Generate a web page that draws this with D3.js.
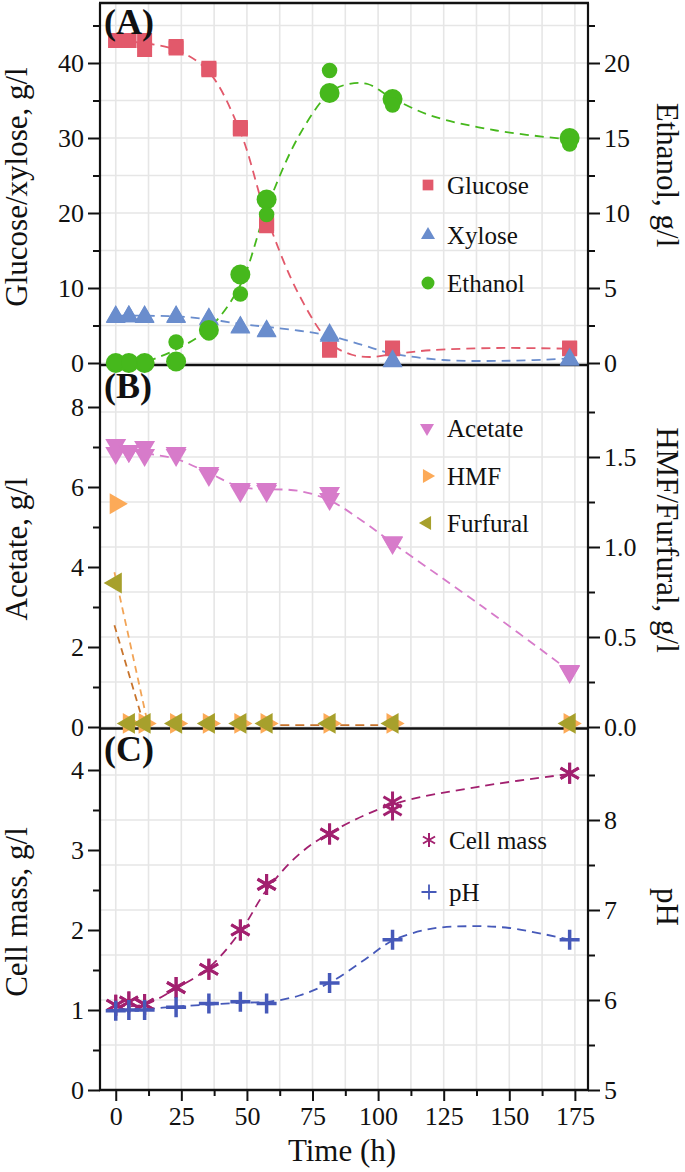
<!DOCTYPE html>
<html><head><meta charset="utf-8">
<script src="https://cdn.jsdelivr.net/npm/d3@7"></script>
<style>svg text, .serif{font-family:"Liberation Serif",Tinos,"Times New Roman" !important}</style>
</head><body style="margin:0;background:#fff"><svg id="c" width="685" height="1172" style="display:block"></svg>
<script>
// ---------- data ----------
const times = [0, 5, 11, 23, 35.5, 47.5, 57.5, 81.5, 105.5, 173];
const glucose1 = [43, 43, 43, 42.2, 39.3, 31.4, 18.6, 1.7, 2.0, 1.9];
const glucose2 = [43, 43, 41.8, 42.0, 39.1, 31.2, 18.3, 1.9, 1.9, 2.0];
const xylose1 = [6.2, 6.2, 6.2, 6.2, 5.9, 4.8, 4.3, 3.8, 0.3, 0.5];
const xylose2 = [6.1, 6.2, 6.1, 6.1, 5.8, 4.7, 4.2, 3.6, 0.2, 0.4];
const ethanol1 = [0, 0, 0, 0.1, 2.2, 5.9, 10.9, 18.0, 17.6, 15.0];
const ethanol2 = [0, 0, 0, 1.4, 2.0, 4.6, 9.9, 19.5, 17.2, 14.6];
const acetate1 = [7.05, 6.9, 7.0, 6.85, 6.35, 5.95, 5.95, 5.85, 4.62, 1.38];
const acetate2 = [6.85, 6.9, 6.8, 6.8, 6.3, 5.9, 5.9, 5.7, 4.6, 1.4];
const hmf = [1.24, 0.02, 0.02, 0.02, 0.02, 0.02, 0.02, 0.02, 0.02, 0.02];
const furfural = [0.80, 0.02, 0.02, 0.02, 0.02, 0.02, 0.02, 0.02, 0.02, 0.02];
const cellmass1 = [1.06, 1.1, 1.07, 1.28, 1.51, 2.0, 2.57, 3.2, 3.6, 3.96];
const cellmass2 = [1.06, 1.1, 1.07, 1.28, 1.51, 2.0, 2.57, 3.2, 3.5, 3.96];
const pH = [5.88, 5.89, 5.89, 5.92, 5.96, 5.98, 5.96, 6.19, 6.67, 6.67];

// fitted (dashed) curves: [time, value]
const glucoseFit = [[0,43],[12,42.6],[24,41.6],[35.5,38.8],[47.5,30.8],[57.5,19.5],[70,9],[82,2.6],[90,1.1],[97,0.8],[106,1.2],[120,1.7],[145,2.0],[173,1.9]];
const xyloseFit = [[0,6.3],[12,6.3],[24,6.2],[36,5.8],[48,5.2],[58,4.8],[70,4.3],[82,3.6],[94,2.4],[105,1.3],[125,0.4],[150,0.3],[173,0.6]];
const ethanolFit = [[12,0.1],[23,0.9],[35.5,2.3],[47.5,5.2],[57.5,10.3],[70,15.2],[82,18.1],[89,18.6],[96,18.6],[105,17.7],[120,16.5],[145,15.5],[173,14.9]];
const acetateFit = [[0,7.0],[11,6.85],[23,6.7],[35.5,6.35],[47.5,6.0],[57.5,5.95],[70,5.9],[82,5.65],[94,5.15],[105.5,4.6],[140,3.0],[173,1.4]];
const hmfFit = [[-0.5,0.86],[12.5,0.0]];
const furfuralFit = [[-0.5,0.565],[11,0.0]];
const furfuralTail = [[57,0.01],[100,0.01]];
const cellmassFit = [[0,1.05],[11,1.07],[23,1.27],[35.5,1.53],[47.5,1.98],[57.5,2.5],[70,2.95],[82,3.22],[105.5,3.57],[140,3.8],[173,3.95]];
const pHFit = [[0,5.88],[12,5.9],[24,5.93],[36,5.95],[48,5.97],[58,5.98],[70,6.05],[82,6.2],[95,6.45],[105.5,6.66],[120,6.79],[135,6.82],[150,6.8],[173,6.67]];

// tick labels
const xTicks = [0, 25, 50, 75, 100, 125, 150, 175];
const xMinor = [12.5, 37.5, 62.5, 87.5, 112.5, 137.5, 162.5];
const aLeftTicks = [0, 10, 20, 30, 40], aLeftMinor = [5, 15, 25, 35, 45];
const aRightTicks = [0, 5, 10, 15, 20], aRightMinor = [2.5, 7.5, 12.5, 17.5, 22.5];
const bLeftTicks = [0, 2, 4, 6, 8], bLeftMinor = [1, 3, 5, 7];
const bRightTicks = [0, 0.5, 1.0, 1.5], bRightMinor = [0.25, 0.75, 1.25, 1.75];
const cLeftTicks = [0, 1, 2, 3, 4], cLeftMinor = [0.5, 1.5, 2.5, 3.5];
const cRightTicks = [5, 6, 7, 8], cRightMinor = [5.5, 6.5, 7.5, 8.5];

// ---------- layout / style ----------
const L = 100, R = 588;
const col = {glucose:'#e2596b', xylose:'#6a8dcd', ethanol:'#46b81c', acetate:'#d77bca', hmf:'#fcaa58', furfural:'#a7a02c', hmfLine:'#f2a456', furLine:'#c8742c', cell:'#a2206f', pH:'#4659b9'};
const svg = d3.select('#c');
const x = d3.scaleLinear().domain([-6, 180]).range([L, R]);

const panels = [
  {label:'(A)', top:3, bottom:363, frameTop:3, frameBottom:365, lDom:[0,48], rDom:[0,24], lT:aLeftTicks, lM:aLeftMinor, rT:aRightTicks, rM:aRightMinor, rFmt:d3.format('d'), lTitle:'Glucose/xylose, g/l', rTitle:'Ethanol, g/l', lTitleY:187, rTitleY:175},
  {label:'(B)', top:367, bottom:727, frameTop:365, frameBottom:728.5, lDom:[0,9], rDom:[0,2], lT:bLeftTicks, lM:bLeftMinor, rT:bRightTicks, rM:bRightMinor, rFmt:d3.format('.1f'), lTitle:'Acetate, g/l', rTitle:'HMF/Furfural, g/l', lTitleY:549, rTitleY:540},
  {label:'(C)', top:730, bottom:1090, frameTop:728.5, frameBottom:1090, lDom:[0,4.5], rDom:[5,9], lT:cLeftTicks, lM:cLeftMinor, rT:cRightTicks, rM:cRightMinor, rFmt:d3.format('d'), lTitle:'Cell mass, g/l', rTitle:'pH', lTitleY:912, rTitleY:907}
];
panels.forEach(p => {
  p.yL = d3.scaleLinear().domain(p.lDom).range([p.bottom, p.top]);
  p.yR = d3.scaleLinear().domain(p.rDom).range([p.bottom, p.top]);
});

const gGrid = svg.append('g'), gAxes = svg.append('g'), gLines = svg.append('g'), gPts = svg.append('g'), gText = svg.append('g');

function txt(g) { return g.append('text').attr('class', 'serif').attr('font-family', 'Liberation Serif').style('font-family', 'Liberation Serif').attr('fill', '#111'); }

// grid
panels.forEach(p => {
  const xs = xTicks.concat(xMinor);
  gGrid.selectAll(null).data(xs).enter().append('line')
    .attr('x1', d => x(d)).attr('x2', d => x(d)).attr('y1', p.frameTop).attr('y2', p.frameBottom)
    .attr('stroke', '#e6e6e6').attr('stroke-width', 1.6);
  const ys = p.rT.concat(p.rM);
  gGrid.selectAll(null).data(ys).enter().append('line')
    .attr('x1', L).attr('x2', R).attr('y1', d => p.yR(d)).attr('y2', d => p.yR(d))
    .attr('stroke', '#e6e6e6').attr('stroke-width', 1.6);
});

function styleAxis(g) {
  g.attr('font-family', 'Liberation Serif').attr('font-size', 26);
  g.select('.domain').remove();
  g.selectAll('.tick line').attr('stroke', '#111').attr('stroke-width', 2);
  g.selectAll('.tick text').attr('class', 'serif').attr('font-size', 26).attr('fill', '#111').attr('font-family', 'Liberation Serif').style('font-family', 'Liberation Serif');
}

// axes
panels.forEach(p => {
  gAxes.append('g').attr('transform', `translate(${L},0)`)
    .call(d3.axisLeft(p.yL).tickValues(p.lT).tickSize(12).tickPadding(4).tickFormat(d3.format('d'))).call(styleAxis);
  gAxes.append('g').attr('transform', `translate(${L},0)`)
    .call(d3.axisLeft(p.yL).tickValues(p.lM).tickSize(7).tickFormat('')).call(styleAxis);
  gAxes.append('g').attr('transform', `translate(${R},0)`)
    .call(d3.axisRight(p.yR).tickValues(p.rT).tickSize(12).tickPadding(4).tickFormat(p.rFmt)).call(styleAxis);
  gAxes.append('g').attr('transform', `translate(${R},0)`)
    .call(d3.axisRight(p.yR).tickValues(p.rM).tickSize(7).tickFormat('')).call(styleAxis);
  gAxes.append('line').attr('x1', L).attr('x2', L).attr('y1', p.frameTop).attr('y2', p.frameBottom).attr('stroke', '#111').attr('stroke-width', 2.2);
  gAxes.append('line').attr('x1', R).attr('x2', R).attr('y1', p.frameTop).attr('y2', p.frameBottom).attr('stroke', '#111').attr('stroke-width', 2.2);
  gAxes.append('line').attr('x1', L - 1).attr('x2', R + 1).attr('y1', p.frameBottom).attr('y2', p.frameBottom).attr('stroke', '#111').attr('stroke-width', 2.5);
  txt(gText).attr('x', 104).attr('y', p.top + 31).attr('font-size', 36).attr('font-weight', 'bold').text(p.label);
  txt(gText).attr('transform', `translate(27,${p.lTitleY}) rotate(-90)`).attr('text-anchor', 'middle').attr('font-size', 31).text(p.lTitle);
  txt(gText).attr('transform', `translate(657,${p.rTitleY}) rotate(90)`).attr('text-anchor', 'middle').attr('font-size', 31).text(p.rTitle);
});
gAxes.append('line').attr('x1', L - 1).attr('x2', R + 1).attr('y1', 3).attr('y2', 3).attr('stroke', '#111').attr('stroke-width', 2.5);
const pC = panels[2];
gAxes.append('g').attr('transform', `translate(0,${pC.bottom})`)
  .call(d3.axisBottom(x).tickValues(xTicks).tickSize(11).tickPadding(6).tickFormat(d3.format('d'))).call(styleAxis);
gAxes.append('g').attr('transform', `translate(0,${pC.bottom})`)
  .call(d3.axisBottom(x).tickValues(xMinor).tickSize(6).tickFormat('')).call(styleAxis);
txt(gText).attr('x', 342).attr('y', 1161).attr('text-anchor', 'middle').attr('font-size', 31).text('Time (h)');

// fit lines
function fit(data, y, color, dash) {
  gLines.append('path').datum(data)
    .attr('d', d3.line().x(d => x(d[0])).y(d => y(d[1])).curve(d3.curveCatmullRom.alpha(0.5)))
    .attr('fill', 'none').attr('stroke', color).attr('stroke-width', 1.8).attr('stroke-dasharray', dash || '9,6');
}
const [pA, pB] = panels;
fit(glucoseFit, pA.yL, col.glucose);
fit(xyloseFit, pA.yL, col.xylose);
fit(ethanolFit, pA.yR, col.ethanol);
fit(acetateFit, pB.yL, col.acetate);
fit(hmfFit, pB.yR, col.hmfLine, '7,5');
fit(furfuralFit, pB.yR, col.furLine, '7,5');
fit(furfuralTail, pB.yR, col.furLine, '9,6');
fit(cellmassFit, pC.yL, col.cell);
fit(pHFit, pC.yR, col.pH);

// markers
const asterisk = s => { let d = ''; [90, 30, 150].forEach(a => { const r = a * Math.PI / 180, dx = Math.cos(r) * s / 2, dy = Math.sin(r) * s / 2; d += `M${-dx},${-dy}L${dx},${dy}`; }); return d; };
const plus = s => `M${-s/2},0L${s/2},0M0,${-s/2}L0,${s/2}`;
function pts(vals, y, opts) {
  const data = times.map((t, i) => [t, vals[i]]);
  const sel = gPts.selectAll(null).data(data).enter().append('path')
    .attr('transform', d => `translate(${x(d[0])},${y(d[1])}) rotate(${opts.rot || 0})`);
  if (opts.path) sel.attr('d', opts.path).attr('fill', 'none').attr('stroke', opts.color).attr('stroke-width', opts.sw);
  else sel.attr('d', d3.symbol(opts.type, opts.size)()).attr('fill', opts.color);
}
pts(glucose1, pA.yL, {type:d3.symbolSquare, size:225, color:col.glucose});
pts(glucose2, pA.yL, {type:d3.symbolSquare, size:225, color:col.glucose});
pts(xylose1, pA.yL, {type:d3.symbolTriangle, size:170, color:col.xylose});
pts(xylose2, pA.yL, {type:d3.symbolTriangle, size:170, color:col.xylose});
pts(ethanol1, pA.yR, {type:d3.symbolCircle, size:Math.PI*100, color:col.ethanol});
pts(ethanol2, pA.yR, {type:d3.symbolCircle, size:Math.PI*60, color:col.ethanol});
pts(acetate1, pB.yL, {type:d3.symbolTriangle, size:190, color:col.acetate, rot:180});
pts(acetate2, pB.yL, {type:d3.symbolTriangle, size:190, color:col.acetate, rot:180});
pts(hmf, pB.yR, {type:d3.symbolTriangle, size:190, color:col.hmf, rot:90});
pts(furfural, pB.yR, {type:d3.symbolTriangle, size:190, color:col.furfural, rot:-90});
pts(cellmass1, pC.yL, {path:asterisk(21), color:col.cell, sw:3});
pts(cellmass2, pC.yL, {path:asterisk(21), color:col.cell, sw:3});
pts(pH, pC.yR, {path:plus(20), color:col.pH, sw:3.5});

// legends
const legends = [
  {items:[['Glucose', {type:d3.symbolSquare, size:115, color:col.glucose}], ['Xylose', {type:d3.symbolTriangle, size:85, color:col.xylose}], ['Ethanol', {type:d3.symbolCircle, size:Math.PI*42, color:col.ethanol}]], ys:[185, 235, 283], mx:428, tx:447},
  {items:[['Acetate', {type:d3.symbolTriangle, size:85, color:col.acetate, rot:180}], ['HMF', {type:d3.symbolTriangle, size:85, color:col.hmf, rot:90}], ['Furfural', {type:d3.symbolTriangle, size:85, color:col.furfural, rot:-90}]], ys:[428, 476, 523], mx:427, tx:447},
  {items:[['Cell mass', {path:asterisk(14), color:col.cell, sw:2}], ['pH', {path:plus(15), color:col.pH, sw:1.8}]], ys:[840, 892], mx:429, tx:449}
];
legends.forEach(lg => {
  lg.items.forEach(([name, o], i) => {
    const m = gText.append('path').attr('transform', `translate(${lg.mx},${lg.ys[i]}) rotate(${o.rot || 0})`);
    if (o.path) m.attr('d', o.path).attr('fill', 'none').attr('stroke', o.color).attr('stroke-width', o.sw);
    else m.attr('d', d3.symbol(o.type, o.size)()).attr('fill', o.color);
    txt(gText).attr('x', lg.tx).attr('y', lg.ys[i] + 8.5).attr('font-size', 25).text(name);
  });
});
</script></body></html>
